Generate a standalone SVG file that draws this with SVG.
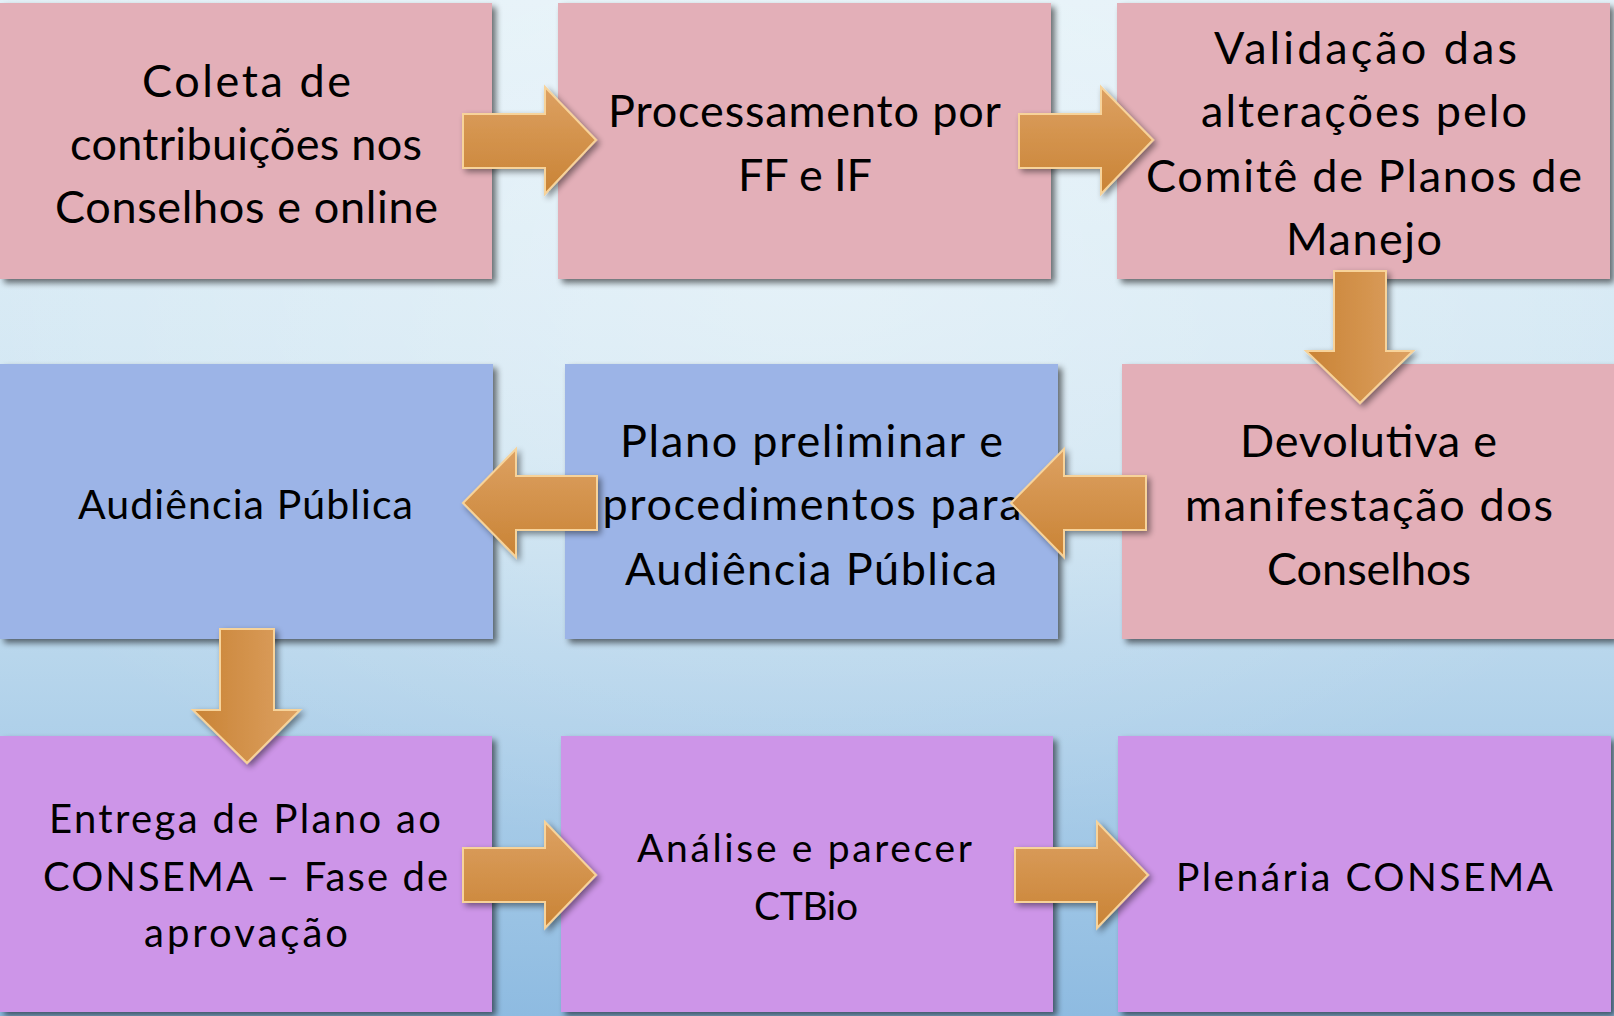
<svg xmlns="http://www.w3.org/2000/svg" width="1614" height="1016" viewBox="0 0 1614 1016">
  <defs>
    <linearGradient id="bg" x1="0" y1="0" x2="0" y2="1">
      <stop offset="0" stop-color="#E3F1F8"/>
      <stop offset="0.45" stop-color="#CFE5F2"/>
      <stop offset="1" stop-color="#8EBBE1"/>
    </linearGradient>
    <radialGradient id="glow" cx="0.5" cy="0.25" r="0.6">
      <stop offset="0" stop-color="#FFFFFF" stop-opacity="0.35"/>
      <stop offset="1" stop-color="#FFFFFF" stop-opacity="0"/>
    </radialGradient>
    <linearGradient id="arrH" x1="0" y1="0" x2="0" y2="1">
      <stop offset="0" stop-color="#DDA162"/>
      <stop offset="1" stop-color="#C98335"/>
    </linearGradient>
    <linearGradient id="arrV" x1="0" y1="0" x2="1" y2="0">
      <stop offset="0" stop-color="#C98335"/>
      <stop offset="1" stop-color="#DDA162"/>
    </linearGradient>
    <filter id="shadow" x="-10%" y="-10%" width="125%" height="125%">
      <feGaussianBlur in="SourceAlpha" stdDeviation="3"/>
      <feOffset dx="4" dy="4" result="b"/>
      <feComponentTransfer><feFuncA type="linear" slope="0.55"/></feComponentTransfer>
      <feMerge><feMergeNode/><feMergeNode in="SourceGraphic"/></feMerge>
    </filter>
    <filter id="ashadow" x="-20%" y="-20%" width="150%" height="150%">
      <feGaussianBlur in="SourceAlpha" stdDeviation="3"/>
      <feOffset dx="3" dy="3" result="b"/>
      <feComponentTransfer><feFuncA type="linear" slope="0.45"/></feComponentTransfer>
      <feMerge><feMergeNode/><feMergeNode in="SourceGraphic"/></feMerge>
    </filter>
  </defs>
  <style>
    .box { filter: url(#shadow); }
    .pink { fill: #E3AFB8; }
    .blue { fill: #9CB4E7; }
    .purple { fill: #CD95E8; }
    .lbl { font-family: Lato, "Open Sans", sans-serif; font-size: 45px; fill: #000; text-anchor: middle; }
    .s41 { font-size: 41px; }
    .s40 { font-size: 40px; }
    .s39 { font-size: 39px; }
    .ah { fill: url(#arrH); stroke: #F7D39A; stroke-width: 2; stroke-linejoin: miter; filter: url(#ashadow); }
    .av { fill: url(#arrV); stroke: #F7D39A; stroke-width: 2; stroke-linejoin: miter; filter: url(#ashadow); }
  </style>

  <rect x="0" y="0" width="1614" height="1016" fill="url(#bg)"/>
  <rect x="0" y="0" width="1614" height="1016" fill="url(#glow)"/>

  <g id="n1">
    <rect class="box pink" x="0" y="3" width="492" height="276"/>
    <text class="lbl" x="246.5" y="97" textLength="209">Coleta de</text>
    <text class="lbl" x="246" y="160" textLength="352">contribuições nos</text>
    <text class="lbl" x="246.5" y="223" textLength="383">Conselhos e online</text>
  </g>
  <g id="n2">
    <rect class="box pink" x="558" y="3" width="493" height="276"/>
    <text class="lbl" x="804.5" y="127" textLength="393">Processamento por</text>
    <text class="lbl" x="805" y="191" textLength="134">FF e IF</text>
  </g>
  <g id="n3">
    <rect class="box pink" x="1117" y="3" width="493" height="276"/>
    <text class="lbl" x="1365.5" y="64" textLength="303">Validação das</text>
    <text class="lbl" x="1364" y="127" textLength="326">alterações pelo</text>
    <text class="lbl" x="1364" y="192" textLength="436">Comitê de Planos de</text>
    <text class="lbl" x="1364" y="255" textLength="156">Manejo</text>
  </g>
  <g id="n4">
    <rect class="box blue" x="0" y="364" width="493" height="275"/>
    <text class="lbl s41" x="245.5" y="519" textLength="335">Audiência Pública</text>
  </g>
  <g id="n5">
    <rect class="box blue" x="565" y="364" width="493" height="275"/>
    <text class="lbl" x="811.5" y="457" textLength="383">Plano preliminar e</text>
    <text class="lbl" x="812" y="520" textLength="419">procedimentos para</text>
    <text class="lbl" x="811" y="585" textLength="372">Audiência Pública</text>
  </g>
  <g id="n6">
    <rect class="box pink" x="1122" y="364" width="492" height="275"/>
    <text class="lbl" x="1368.5" y="457" textLength="257">Devolutiva e</text>
    <text class="lbl" x="1369" y="521" textLength="368">manifestação dos</text>
    <text class="lbl" x="1369" y="585" textLength="204">Conselhos</text>
  </g>
  <g id="n7">
    <rect class="box purple" x="0" y="736" width="492" height="276"/>
    <text class="lbl s40" x="245" y="833" textLength="392">Entrega de Plano ao</text>
    <text class="lbl s40" x="245.5" y="891" textLength="405">CONSEMA – Fase de</text>
    <text class="lbl s40" x="246" y="947" textLength="204">aprovação</text>
  </g>
  <g id="n8">
    <rect class="box purple" x="561" y="736" width="492" height="276"/>
    <text class="lbl s39" x="804.5" y="862" textLength="335">Análise e parecer</text>
    <text class="lbl s39" x="806" y="920" textLength="104">CTBio</text>
  </g>
  <g id="n9">
    <rect class="box purple" x="1118" y="736" width="493" height="276"/>
    <text class="lbl s39" x="1364.5" y="891" textLength="377">Plenária CONSEMA</text>
  </g>

  <g id="connectors">
    <path class="ah" d="M463,114 L545,114 L545,87 L596,140 L545,194 L545,168 L463,168 Z"/>
    <path class="ah" d="M1019,114 L1101,114 L1101,87 L1153,140 L1101,194 L1101,168 L1019,168 Z"/>
    <path class="av" d="M1334,271 L1386,271 L1386,351 L1413,351 L1360,403 L1306,351 L1334,351 Z"/>
    <path class="ah" d="M1146,476 L1064,476 L1064,449 L1011,503 L1064,557 L1064,530 L1146,530 Z"/>
    <path class="ah" d="M597,476 L516,476 L516,449 L463,503 L516,557 L516,530 L597,530 Z"/>
    <path class="av" d="M220,629 L274,629 L274,710 L300,710 L247,763 L193,710 L220,710 Z"/>
    <path class="ah" d="M463,848 L545,848 L545,822 L596,875 L545,928 L545,902 L463,902 Z"/>
    <path class="ah" d="M1015,848 L1097,848 L1097,822 L1148,875 L1097,928 L1097,902 L1015,902 Z"/>
  </g>
</svg>
